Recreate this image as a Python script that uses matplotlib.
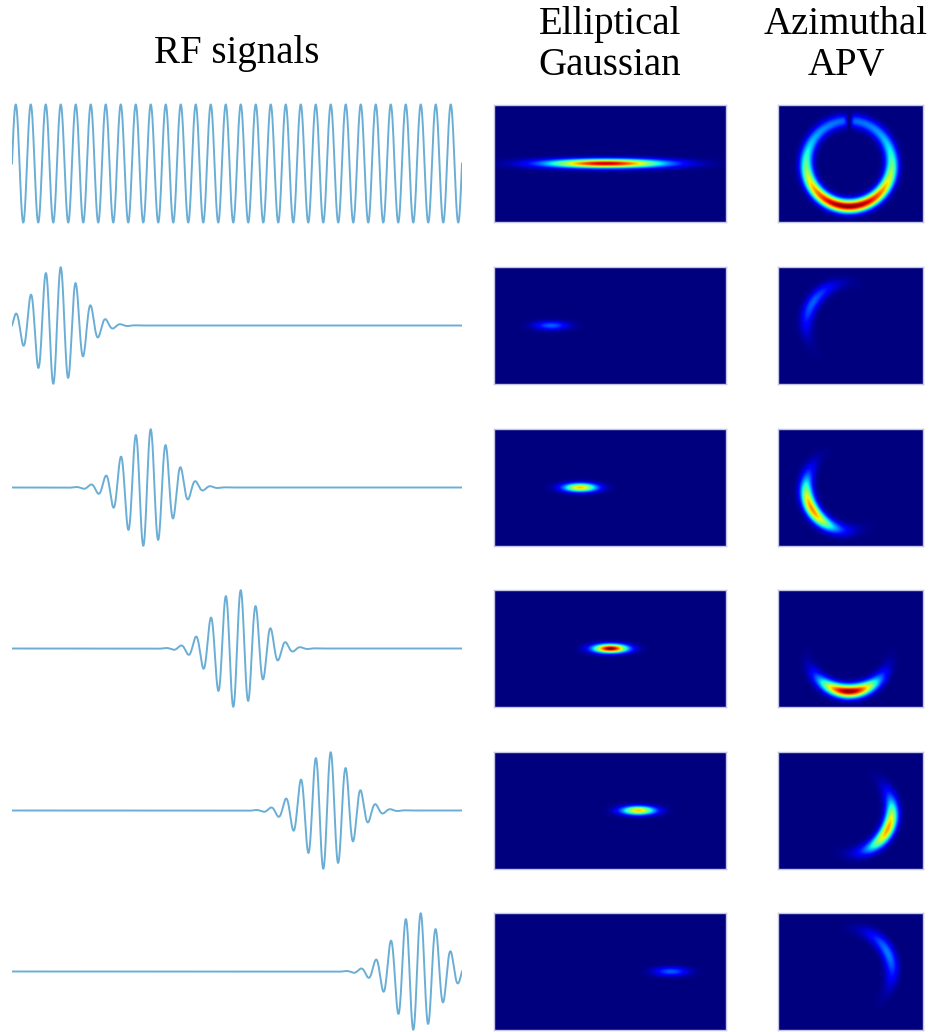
import numpy as np
import matplotlib
matplotlib.use('Agg')
import matplotlib.pyplot as plt

# column titles
col_titles = ['RF signals', 'Elliptical\nGaussian', 'Azimuthal\nAPV']

# RF signals: carrier cycles across the trace, pulse centres and width (fraction of trace)
carrier_cycles = 30
pulse_centers = [0.10, 0.30, 0.50, 0.70, 0.90]
pulse_sigma = 0.051

# Elliptical Gaussian panels: row 0 is the continuous wave, rows 1..5 are the pulses
ell_u = [0.48, 0.245, 0.37, 0.50, 0.62, 0.76]
ell_peak = [0.95, 0.22, 0.70, 1.0, 0.70, 0.22]
ell_su = [0.17, 0.05, 0.05, 0.05, 0.05, 0.05]
ell_sv = 0.026

# Azimuthal APV panels: arc centre angle (deg), peak level, angular width (deg)
apv_theta = [270, 148, 210, 270, 335, 25]
apv_peak = [1.0, 0.22, 0.76, 1.0, 0.74, 0.25]
apv_stheta = [60, 28, 30, 28, 28, 28]
ring_floor = 0.22
ring_radius = 43.0
ring_sr = 4.5

W, H = 932, 1032
fig = plt.figure(figsize=(W / 100, H / 100), dpi=100)

def add_ax(x0, y0, w, h):
    return fig.add_axes([x0 / W, 1 - (y0 + h) / H, w / W, h / H])

row_tops = [105, 267, 429, 590, 752, 913]
img_h = 117

t = np.linspace(0, 1, 4000)
line_col = '#6aaed6'

for i in range(6):
    yc = row_tops[i] + img_h / 2
    # --- RF signal
    ax = add_ax(12, yc - 62, 450, 124)
    if i == 0:
        sig = np.sin(2 * np.pi * carrier_cycles * t)
    else:
        tc = pulse_centers[i - 1]
        sig = np.exp(-(t - tc) ** 2 / (2 * pulse_sigma ** 2)) * np.sin(2 * np.pi * carrier_cycles * (t - tc))
    ax.plot(t, sig, color=line_col, lw=1.4)
    ax.set_xlim(0, 1)
    ax.set_ylim(-1.05, 1.05)
    ax.axis('off')

    # --- elliptical gaussian
    ax = add_ax(494, row_tops[i], 232, img_h)
    u = np.linspace(0, 1, 464)
    v = np.linspace(0, 1, 234)
    U, V = np.meshgrid(u, v)
    img = ell_peak[i] * np.exp(-(U - ell_u[i]) ** 2 / (2 * ell_su[i] ** 2)
                               - (V - 0.5) ** 2 / (2 * ell_sv ** 2))
    ax.imshow(img, cmap='jet', vmin=0, vmax=1, origin='lower', extent=[0, 1, 0, 1],
              aspect='auto', interpolation='bilinear')
    ax.set_xticks([])
    ax.set_yticks([])
    for s in ax.spines.values():
        s.set_color('#c4c4e6')
        s.set_linewidth(1.0)

    # --- azimuthal APV
    ax = add_ax(778, row_tops[i], 145, img_h)
    px = np.linspace(0, 145, 290)
    py = np.linspace(0, img_h, 234)
    X, Y = np.meshgrid(px, py)
    dx = X - 0.49 * 145
    dy = Y - img_h / 2
    r = np.hypot(dx, dy)
    th = np.degrees(np.arctan2(dy, dx))
    d = (th - apv_theta[i] + 180) % 360 - 180
    radial = np.exp(-(r - ring_radius) ** 2 / (2 * ring_sr ** 2))
    if i == 0:
        ang = ring_floor + (1 - ring_floor) * np.exp(-d ** 2 / (2 * apv_stheta[i] ** 2))
        ang = ang * (1 - np.exp(-(180 - np.abs(d)) ** 2 / (2 * 3.0 ** 2)))
    else:
        ang = np.exp(-d ** 2 / (2 * apv_stheta[i] ** 2))
    img = apv_peak[i] * ang * radial
    ax.imshow(img, cmap='jet', vmin=0, vmax=1, origin='lower', extent=[0, 145, 0, img_h],
              aspect='auto', interpolation='bilinear')
    ax.set_xticks([])
    ax.set_yticks([])
    for s in ax.spines.values():
        s.set_color('#c4c4e6')
        s.set_linewidth(1.0)

title_font = dict(family=['Liberation Serif', 'DejaVu Serif'], fontsize=28, ha='center', va='center',
                  linespacing=1.15)
fig.text(237 / W, 1 - 53 / H, col_titles[0], **title_font)
fig.text(610 / W, 1 - 45 / H, col_titles[1], **title_font)
fig.text(846 / W, 1 - 45 / H, col_titles[2], **title_font)

fig.savefig('out.png', dpi=100, facecolor='white')
